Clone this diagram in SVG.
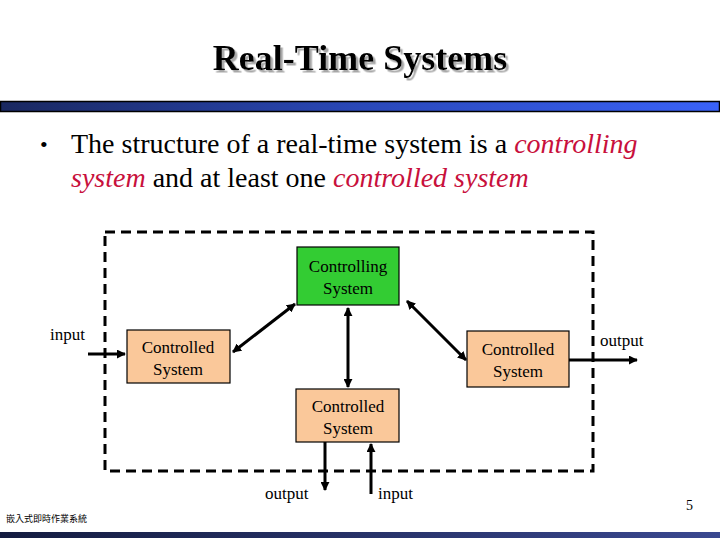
<svg xmlns="http://www.w3.org/2000/svg" width="720" height="540" viewBox="0 0 720 540">
<defs>
<linearGradient id="topbar" x1="0" y1="0" x2="1" y2="0">
<stop offset="0" stop-color="#1a2860"/>
<stop offset="0.5" stop-color="#2a48b8"/>
<stop offset="1" stop-color="#3a62f8"/>
</linearGradient>
<linearGradient id="botbar" x1="0" y1="0" x2="1" y2="0">
<stop offset="0" stop-color="#141c40"/>
<stop offset="1" stop-color="#3a4890"/>
</linearGradient>
<filter id="shadow" x="-5%" y="-20%" width="115%" height="150%">
<feDropShadow dx="2.5" dy="2.5" stdDeviation="0.6" flood-color="#a8a8a8" flood-opacity="1"/>
</filter>
<marker id="ah" viewBox="0 0 10 10" refX="9" refY="5" markerWidth="3" markerHeight="3" orient="auto-start-reverse" markerUnits="strokeWidth">
<path d="M0,0 L10,5 L0,10 z" fill="#000"/>
</marker>
<style>
.t{font-family:"Liberation Serif","Times New Roman",serif;fill:#000}
.box{stroke:#000;stroke-width:1.2}
.ctl{fill:#fac89a}
.lbl{font-size:17px;text-anchor:middle}
.io{font-size:17px}
.red{fill:#c8103c;font-style:italic}
.conn{stroke:#000;stroke-width:3;fill:none}
</style>
</defs>
<rect width="720" height="540" fill="#fff"/>
<text x="360" y="70" class="t" font-size="36" font-weight="bold" text-anchor="middle" filter="url(#shadow)">Real-Time Systems</text>
<rect x="0.5" y="101.5" width="719" height="10" fill="url(#topbar)" stroke="#000" stroke-width="1.5"/>
<text x="40" y="152" class="t" font-size="22">•</text>
<text x="71" y="153" class="t" font-size="28">The structure of a real-time system is a <tspan class="red">controlling</tspan></text>
<text x="71" y="187" class="t" font-size="28"><tspan class="red">system</tspan> and at least one <tspan class="red">controlled system</tspan></text>
<rect x="105" y="232" width="488" height="239" fill="none" stroke="#000" stroke-width="3" stroke-dasharray="10,6"/>
<g id="connectors">
<line class="conn" x1="88" y1="354" x2="125" y2="354" marker-end="url(#ah)"/>
<line class="conn" x1="233" y1="352" x2="295" y2="304" marker-start="url(#ah)" marker-end="url(#ah)"/>
<line class="conn" x1="348" y1="308" x2="348" y2="387" marker-start="url(#ah)" marker-end="url(#ah)"/>
<line class="conn" x1="407" y1="301" x2="466" y2="360" marker-start="url(#ah)" marker-end="url(#ah)"/>
<line class="conn" x1="569" y1="360" x2="637" y2="360" marker-end="url(#ah)"/>
<line class="conn" x1="325" y1="442" x2="325" y2="490" marker-end="url(#ah)"/>
<line class="conn" x1="371" y1="494" x2="371" y2="444" marker-end="url(#ah)"/>
</g>
<g id="controlling">
<rect class="box" x="297" y="247" width="102" height="58" fill="#33cc33"/>
<text class="t lbl" x="348" y="272">Controlling</text>
<text class="t lbl" x="348" y="294">System</text>
</g>
<g id="controlled-left">
<rect class="box ctl" x="127" y="330" width="103" height="53"/>
<text class="t lbl" x="178" y="353">Controlled</text>
<text class="t lbl" x="178" y="375">System</text>
</g>
<g id="controlled-right">
<rect class="box ctl" x="467" y="331" width="102" height="56"/>
<text class="t lbl" x="518" y="355">Controlled</text>
<text class="t lbl" x="518" y="377">System</text>
</g>
<g id="controlled-bottom">
<rect class="box ctl" x="296" y="389" width="103" height="53"/>
<text class="t lbl" x="348" y="412">Controlled</text>
<text class="t lbl" x="348" y="434">System</text>
</g>
<text class="t io" x="50" y="340">input</text>
<text class="t io" x="600" y="346">output</text>
<text class="t io" x="265" y="499">output</text>
<text class="t io" x="378" y="499">input</text>
<text x="686" y="510" class="t" font-size="14">5</text>
<text x="6" y="522" font-family="'Noto Sans CJK TC',sans-serif" font-size="9" fill="#000">嵌入式即時作業系統</text>
<rect x="0" y="532" width="720" height="6" fill="url(#botbar)"/>
</svg>
